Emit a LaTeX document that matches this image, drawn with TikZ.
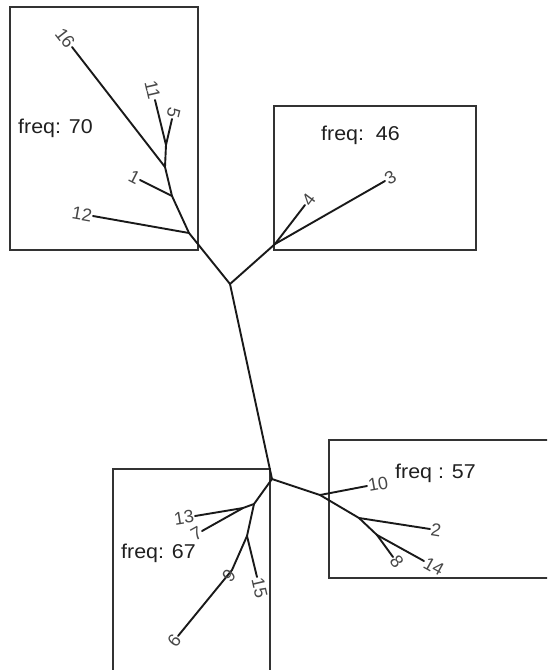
\documentclass[tikz,border=0pt]{standalone}
\usepackage{fontspec}
\setmainfont{Liberation Sans}
\begin{document}
\begin{tikzpicture}[x=1pt,y=-1pt,
  edge/.style={line width=1.9pt, line cap=round, line join=round, black!90},
  frame/.style={line width=1.2pt, black!80},
  lab/.style={inner sep=1pt, text=black!72, font=\fontsize{18}{18}\selectfont},
  freqlab/.style={inner sep=0pt, text=black!88, xscale=1.07, font=\fontsize{20}{20}\selectfont}]
\useasboundingbox (0,0) rectangle (547,670);
\clip (0,0) rectangle (547,670);
% frames
\draw[frame] (10,7) rectangle (198,250);
\draw[frame] (274,106) rectangle (476,250);
\draw[frame] (113,469) rectangle (270,690);
\draw[frame] (329,440) rectangle (560,578);
% coordinates
\coordinate (J1) at (230,284);
\coordinate (J2) at (272,479);
\coordinate (a1) at (189,233);
\coordinate (a2) at (172,196);
\coordinate (a3) at (165,167);
\coordinate (a4) at (166,145);
\coordinate (l12) at (93,216);
\coordinate (l1) at (140,180);
\coordinate (l16) at (72,47);
\coordinate (l11) at (155,100);
\coordinate (l5) at (172,119);
\coordinate (b1) at (275,244);
\coordinate (l4) at (305,205);
\coordinate (l3) at (385,181);
\coordinate (c1) at (254,504);
\coordinate (c2) at (243,508);
\coordinate (l13) at (195,516);
\coordinate (l7) at (202,531);
\coordinate (c3) at (247,536);
\coordinate (l15) at (257,577);
\coordinate (c4) at (232,570);
\coordinate (l6) at (178,636);
\coordinate (d1) at (320,495);
\coordinate (l10) at (367,486);
\coordinate (d2) at (359,518);
\coordinate (l2) at (430,529);
\coordinate (d3) at (377,535);
\coordinate (l8) at (393,557);
\coordinate (l14) at (424,561);
% edges
\draw[edge] (J1) -- (J2);
\draw[edge] (J1) -- (a1) -- (a2) -- (a3) -- (a4);
\draw[edge] (a1) -- (l12);
\draw[edge] (a2) -- (l1);
\draw[edge] (a3) -- (l16);
\draw[edge] (a4) -- (l11);
\draw[edge] (a4) -- (l5);
\draw[edge] (J1) -- (b1);
\draw[edge] (b1) -- (l4);
\draw[edge] (b1) -- (l3);
\draw[edge] (J2) -- (c1) -- (c2);
\draw[edge] (c2) -- (l13);
\draw[edge] (c2) -- (l7);
\draw[edge] (c1) -- (c3) -- (l15);
\draw[edge] (c3) -- (c4) -- (l6);
\draw[edge] (J2) -- (d1) -- (d2) -- (d3);
\draw[edge] (d1) -- (l10);
\draw[edge] (d2) -- (l2);
\draw[edge] (d3) -- (l8);
\draw[edge] (d3) -- (l14);
% leaf labels
\node[lab, anchor=east, rotate=-52] (t16) at (l16) {16};
\node[lab, anchor=east, rotate=-77] (t11) at (l11) {11};
\node[lab, anchor=east, rotate=-104] (t5) at (l5) {5};
\node[lab, anchor=east, rotate=-27] (t1) at (l1) {1};
\node[lab, anchor=east, rotate=-10] (t12) at (l12) {12};
\node[lab, anchor=west, rotate=53] (t4) at (l4) {4};
\node[lab, anchor=west, rotate=30] (t3) at (l3) {3};
\node[lab, anchor=east, rotate=9] (t13) at (l13) {13};
\node[lab, anchor=east, rotate=29] (t7) at (l7) {7};
\node[lab, anchor=west, rotate=-77] (t15) at (l15) {15};
\node[lab, anchor=center, rotate=51] (t9) at (229,576) {9};
\node[lab, anchor=east, rotate=51] (t6) at (l6) {6};
\node[lab, anchor=west, rotate=10] (t10) at (l10) {10};
\node[lab, anchor=west, rotate=-9] (t2) at (l2) {2};
\node[lab, anchor=west, rotate=-52] (t8) at (l8) {8};
\node[lab, anchor=west, rotate=-29] (t14) at (l14) {14};
% freq labels
\node[freqlab, anchor=west] (f70) at (18,128) {freq: 70};
\node[freqlab, anchor=west] (f46) at (321,135) {freq:\ \ 46};
\node[freqlab, anchor=west] (f57) at (395,473) {freq : 57};
\node[freqlab, anchor=west] (f67) at (121,553) {freq: 67};
\end{tikzpicture}
\end{document}
